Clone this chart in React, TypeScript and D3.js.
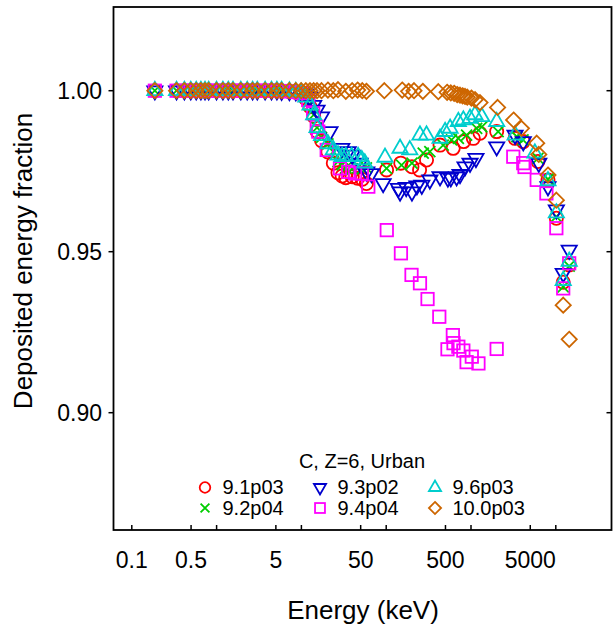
import React from "react";
import * as d3 from "d3";

// ---------- data (energy in keV, deposited energy fraction) ----------
const s91p03: [number, number][] = [
  [0.187, 1.0], [0.337, 1.0], [0.417, 1.0], [0.496, 1.0], [0.575, 1.0], [0.653, 1.0], [0.73, 1.0], [0.807, 1.0],
  [0.998, 1.0], [1.187, 1.0], [1.374, 1.0], [1.561, 1.0], [1.93, 1.0], [2.296, 1.0], [2.659, 1.0], [3.018, 1.0],
  [3.733, 1.0], [4.441, 1.0], [5.141, 1.0], [5.84, 0.9999], [7.221, 0.9998], [8.588, 0.9995], [9.94, 0.999],
  [11.29, 0.9975], [12.63, 0.995], [13.96, 0.9921], [15.29, 0.9873], [17.27, 0.9845], [20.54, 0.981], [23.79, 0.9775],
  [27.01, 0.9745], [30.22, 0.9735], [33.4, 0.973], [39.72, 0.9733], [46.01, 0.9728], [52.24, 0.9725], [58.42, 0.9712],
  [101.0, 0.9754], [148.6, 0.9775], [201.2, 0.9764], [247.4, 0.9754], [298.8, 0.9785], [431.1, 0.9831],
  [616.6, 0.9821], [817.9, 0.9842], [1065, 0.9852], [1277, 0.9868], [2008, 0.9873], [3307, 0.9852],
  [4133, 0.9842], [6152, 0.978], [8086, 0.9723], [10150, 0.9604], [12230, 0.9405], [14390, 0.9459],
];
const s92p04: [number, number][] = [
  [0.187, 1.0], [0.337, 1.0], [0.417, 1.0], [0.496, 1.0], [0.575, 1.0], [0.653, 1.0], [0.73, 1.0], [0.807, 1.0],
  [0.998, 1.0], [1.187, 1.0], [1.374, 1.0], [1.561, 1.0], [1.93, 1.0], [2.296, 1.0], [2.659, 1.0], [3.018, 1.0],
  [3.733, 1.0], [4.441, 1.0], [5.141, 1.0], [5.84, 1.0], [7.221, 0.9998], [8.588, 0.9996], [9.94, 0.9993],
  [11.29, 0.998], [12.63, 0.9955], [13.96, 0.9925], [15.29, 0.9885], [17.27, 0.9855], [20.54, 0.9835], [23.79, 0.981],
  [27.01, 0.978], [30.22, 0.977], [33.4, 0.976], [39.72, 0.9757], [46.01, 0.976], [52.24, 0.9757], [58.42, 0.976],
  [101.0, 0.9759], [151.6, 0.9769], [201.2, 0.9775], [273.2, 0.9806], [327.1, 0.9811], [470.0, 0.9831],
  [589.1, 0.9847], [709.3, 0.9852], [887.8, 0.9862], [1166, 0.9883], [1341, 0.9888], [2090, 0.9873],
  [3482, 0.9857], [4108, 0.9847], [6152, 0.979], [8086, 0.9725], [10150, 0.9609], [12230, 0.9391],
  [14390, 0.9455],
];
const s93p02: [number, number][] = [
  [0.187, 1.0], [0.337, 1.0], [0.417, 1.0], [0.496, 1.0], [0.575, 1.0], [0.653, 1.0], [0.73, 1.0], [0.807, 1.0],
  [0.998, 1.0], [1.187, 1.0], [1.374, 1.0], [1.561, 1.0], [1.93, 1.0], [2.296, 1.0], [2.659, 1.0], [3.018, 1.0],
  [3.733, 1.0], [4.441, 1.0], [5.141, 1.0], [5.84, 0.9999], [7.221, 0.9998], [8.588, 0.9997], [9.94, 0.9995],
  [11.29, 0.999], [12.63, 0.998], [13.96, 0.9955], [15.29, 0.994], [17.27, 0.9919], [21.71, 0.9873], [29.9, 0.9821],
  [35.62, 0.9811], [39.72, 0.98], [49.13, 0.9775], [59.04, 0.9748], [67.05, 0.9743], [92.0, 0.9712], [139.2, 0.9697],
  [145.7, 0.9686], [172.1, 0.97], [201.2, 0.9686], [230.1, 0.9705], [262.9, 0.9707], [327.1, 0.9723], [431.1, 0.9733],
  [533.8, 0.9729], [578.1, 0.973], [676.6, 0.9733], [741.9, 0.974], [850.2, 0.9764], [973.6, 0.9775],
  [1144, 0.979], [2008, 0.9826], [3307, 0.9862], [4133, 0.9842], [6298, 0.9775], [8086, 0.9702],
  [10150, 0.963], [12230, 0.9433], [14390, 0.9505],
];
const s94p04: [number, number][] = [
  [0.187, 1.0], [0.337, 1.0], [0.417, 1.0], [0.496, 1.0], [0.575, 1.0], [0.653, 1.0], [0.73, 1.0], [0.807, 1.0],
  [0.998, 1.0], [1.187, 1.0], [1.374, 1.0], [1.561, 1.0], [1.93, 1.0], [2.296, 1.0], [2.659, 1.0], [3.018, 1.0],
  [3.733, 1.0], [4.441, 1.0], [5.141, 1.0], [5.84, 0.9999], [7.221, 0.9998], [8.588, 0.9996], [9.94, 0.9993],
  [12.03, 0.9971], [13.76, 0.993], [15.16, 0.9888], [15.82, 0.9873], [19.89, 0.9816], [28.48, 0.9759],
  [35.62, 0.9748], [42.87, 0.9743], [51.61, 0.9743], [61.52, 0.9702], [101.6, 0.9567], [149.2, 0.9495],
  [198.9, 0.9428], [250.2, 0.9402], [307.3, 0.9353], [422.7, 0.9298], [528.3, 0.9197], [611.0, 0.9241],
  [622.0, 0.9216], [709.3, 0.9205], [812.3, 0.9193], [887.8, 0.9157], [1022, 0.9174], [1224, 0.9153],
  [2008, 0.9198], [3150, 0.9795], [4133, 0.9775], [4282, 0.9763], [5957, 0.9723], [7751, 0.9681],
  [10150, 0.9573], [12230, 0.9386], [14390, 0.9464],
];
const s96p03: [number, number][] = [
  [0.187, 1.0], [0.337, 1.0], [0.417, 1.0], [0.496, 1.0], [0.575, 1.0], [0.653, 1.0], [0.73, 1.0], [0.807, 1.0],
  [0.998, 1.0], [1.187, 1.0], [1.374, 1.0], [1.561, 1.0], [1.93, 1.0], [2.296, 1.0], [2.659, 1.0], [3.018, 1.0],
  [3.733, 1.0], [4.441, 1.0], [5.141, 1.0], [5.84, 1.0], [7.221, 0.9999], [8.588, 0.9997], [9.94, 0.9995],
  [11.29, 0.998], [12.63, 0.9955], [13.96, 0.9925], [15.29, 0.9885], [17.27, 0.986], [20.54, 0.9835], [23.79, 0.9816],
  [27.01, 0.98], [30.22, 0.9795], [33.4, 0.9795], [39.1, 0.9795], [46.64, 0.9795], [51.61, 0.9785], [55.96, 0.9775],
  [96.8, 0.9793], [145.7, 0.9821], [189.7, 0.9816], [250.2, 0.9862], [298.8, 0.9862], [431.1, 0.9852],
  [495.0, 0.9873], [567.0, 0.9883], [709.3, 0.9904], [812.3, 0.9909], [973.6, 0.9914], [1113, 0.9925],
  [1341, 0.9919], [2008, 0.9904], [3307, 0.9862], [5662, 0.9806], [8086, 0.972], [10150, 0.962],
  [12230, 0.941], [14390, 0.947],
];
const s100p03: [number, number][] = [
  [0.187, 1.0], [0.337, 1.0], [0.417, 1.0], [0.496, 1.0], [0.575, 1.0], [0.653, 1.0], [0.73, 1.0], [0.807, 1.0],
  [0.998, 1.0], [1.187, 1.0], [1.374, 1.0], [1.561, 1.0], [1.93, 1.0], [2.296, 1.0], [2.659, 1.0], [3.018, 1.0],
  [3.733, 1.0], [4.441, 1.0], [5.141, 1.0], [5.84, 1.0], [7.221, 1.0], [8.588, 1.0], [9.94, 1.0], [11.29, 1.0],
  [12.63, 1.0], [13.96, 1.0], [15.29, 1.0], [17.27, 1.0], [20.54, 1.0002], [23.79, 1.0], [27.01, 1.0003],
  [33.4, 0.9998], [39.72, 1.0], [46.01, 1.0002], [52.24, 1.0], [58.42, 0.9998], [95.0, 1.0], [154.5, 1.0002],
  [183.8, 0.9998], [212.8, 1.0], [270.3, 0.9998], [411.6, 0.9997], [522.7, 0.9995], [578.1, 0.9993],
  [632.9, 0.9992], [687.6, 0.9988], [741.9, 0.9986], [796.0, 0.9984], [850.2, 0.9982], [904.0, 0.998],
  [1011, 0.9977], [1118, 0.9972], [1277, 0.9963], [2059, 0.9948], [3181, 0.9909], [3934, 0.9883],
  [5957, 0.9837], [6298, 0.9802], [8086, 0.9738], [10150, 0.966], [12230, 0.9334], [14390, 0.9228],
];

const seriesNames = ["9.1p03", "9.2p04", "9.3p02", "9.4p04", "9.6p03", "10.0p03"];
const seriesColors = ["#FF0000", "#00CD00", "#0000CD", "#FF00FF", "#00CDCD", "#CD6600"];
const seriesShapes = ["circle", "x", "tridown", "square", "triup", "diamond"];
const seriesData = [s91p03, s92p04, s93p02, s94p04, s96p03, s100p03];

const xTickValues = [0.1, 0.5, 1, 5, 10, 50, 100, 500, 1000, 5000, 10000];
const xTickLabels = ["0.1", "0.5", "", "5", "", "50", "", "500", "", "5000", ""];
const yTickValues = [0.9, 0.95, 1.0];
const yTickLabels = ["0.90", "0.95", "1.00"];
const legendTitle = "C, Z=6, Urban";

const W = 613;
const H = 635;
const L = 113.5, R = 611.5, T = 7, B = 530;
const FONT = "'Liberation Sans', Arial, Helvetica, sans-serif";

function Marker({ shape, color, cx, cy, s }: { shape: string; color: string; cx: number; cy: number; s: number }) {
  const sw = 1.8;
  const common = { fill: "none", stroke: color, strokeWidth: sw };
  const tr = `translate(${cx},${cy}) scale(${s})`;
  switch (shape) {
    case "circle":
      return <circle cx={cx} cy={cy} r={6.6 * s} {...common} />;
    case "x":
      return <path transform={tr} d="M-5.5,-5.5L5.5,5.5M-5.5,5.5L5.5,-5.5" {...common} strokeWidth={sw / s} />;
    case "tridown":
      return <path transform={tr} d="M-7.6,-4.4L7.6,-4.4L0,8.8Z" {...common} strokeWidth={sw / s} />;
    case "triup":
      return <path transform={tr} d="M-7.6,4.4L7.6,4.4L0,-8.8Z" {...common} strokeWidth={sw / s} />;
    case "square":
      return <rect transform={tr} x={-6.2} y={-6.2} width={12.4} height={12.4} {...common} strokeWidth={sw / s} />;
    case "diamond":
      return <path transform={tr} d="M0,-7.6L7.6,0L0,7.6L-7.6,0Z" {...common} strokeWidth={sw / s} />;
  }
  return null;
}

export default function App() {
  const x = d3.scaleLog().domain([0.1, 1e4]).range([131.8, 555.8]);
  const y = d3.scaleLinear().domain([0.9, 1.0]).range([412.7, 90.7]);

  const legendCols = [205, 320, 435];
  const legendRows = [487.5, 508];

  return (
    <div style={{ position: "absolute", left: 0, top: 0 }}>
      <svg width={W} height={H} style={{ display: "block", background: "#fff" }} fontFamily={FONT}>
        <rect x={0} y={0} width={W} height={H} fill="#fff" />
        {/* points */}
        <g>
          {seriesData.map((data, i) => (
            <g key={i}>
              {data.map((d, j) => (
                <Marker key={j} shape={seriesShapes[i]} color={seriesColors[i]} cx={x(d[0])} cy={y(d[1])} s={1} />
              ))}
            </g>
          ))}
        </g>
        {/* frame */}
        <rect x={L} y={T} width={R - L} height={B - T} fill="none" stroke="#000" strokeWidth={1.8} />
        {/* x ticks */}
        {xTickValues.map((v, i) => (
          <g key={i}>
            <line x1={x(v)} x2={x(v)} y1={B} y2={B - 5} stroke="#000" strokeWidth={1.5} />
            {xTickLabels[i] && (
              <text x={x(v)} y={568} textAnchor="middle" fontSize={23} fill="#000">
                {xTickLabels[i]}
              </text>
            )}
          </g>
        ))}
        {/* y ticks */}
        {yTickValues.map((v, i) => (
          <g key={i}>
            <line x1={L - 5} x2={L} y1={y(v)} y2={y(v)} stroke="#000" strokeWidth={1.5} />
            <line x1={R - 5} x2={R} y1={y(v)} y2={y(v)} stroke="#000" strokeWidth={1.5} />
            <text x={102} y={y(v) + 8} textAnchor="end" fontSize={23} fill="#000">
              {yTickLabels[i]}
            </text>
          </g>
        ))}
        {/* axis titles */}
        <text x={363} y={619} textAnchor="middle" fontSize={26} fill="#000">
          Energy (keV)
        </text>
        <text transform={`translate(32,261) rotate(-90)`} textAnchor="middle" fontSize={26} fill="#000">
          Deposited energy fraction
        </text>
        {/* legend */}
        <text x={362} y={468} textAnchor="middle" fontSize={20} fill="#000">
          {legendTitle}
        </text>
        {seriesNames.map((name, i) => {
          const col = Math.floor(i / 2);
          const row = i % 2;
          const sx = legendCols[col];
          const sy = legendRows[row];
          return (
            <g key={name}>
              <Marker shape={seriesShapes[i]} color={seriesColors[i]} cx={sx} cy={sy} s={0.8} />
              <text x={sx + 17.5} y={sy + 6.5} fontSize={20} fill="#000">
                {name}
              </text>
            </g>
          );
        })}
      </svg>
    </div>
  );
}
